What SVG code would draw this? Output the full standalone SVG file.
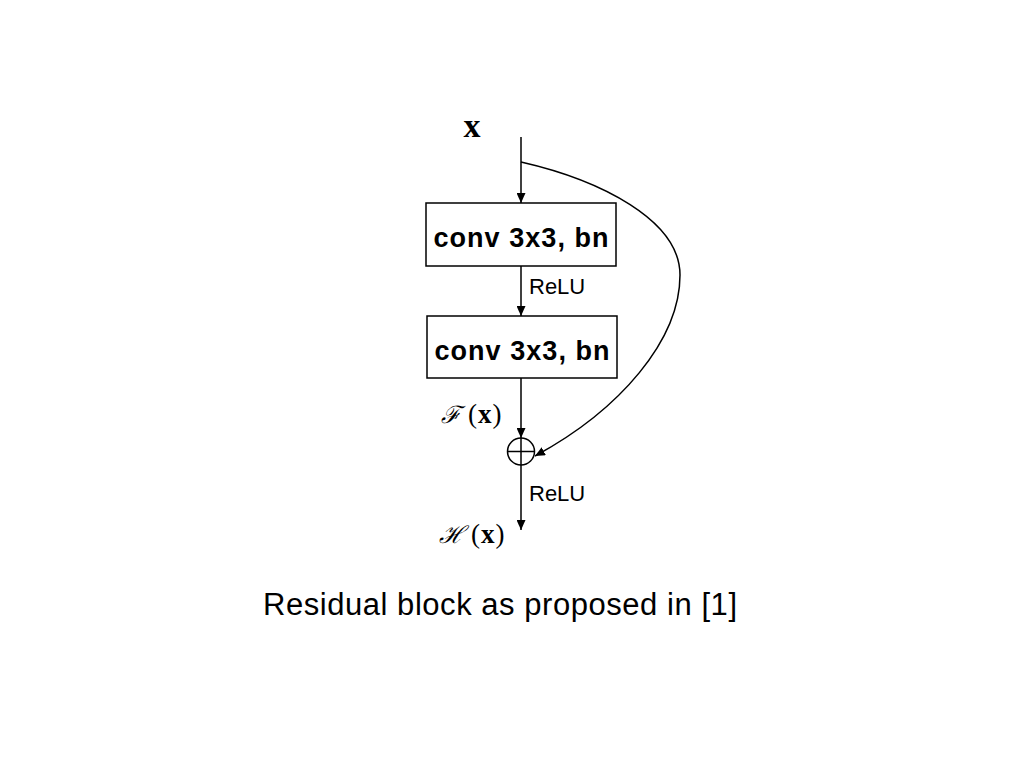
<svg xmlns="http://www.w3.org/2000/svg" width="1024" height="768" viewBox="0 0 1024 768">
<defs>
<marker id="ah" viewBox="0 0 10 10" refX="10" refY="5" markerWidth="10" markerHeight="9" markerUnits="userSpaceOnUse" orient="auto" preserveAspectRatio="none">
<path d="M0,0 L10,5 L0,10 z" fill="#000"/>
</marker>
<style>
.box{fill:#fff;stroke:#000;stroke-width:1.5}
.edge{fill:none;stroke:#000;stroke-width:1.5;marker-end:url(#ah)}
.bt{font-family:"Liberation Sans",Arial,sans-serif;font-weight:bold;font-size:27px;text-anchor:middle}
.lbl{font-family:"Liberation Sans",Arial,sans-serif;font-size:22px}
.math{font-family:"Liberation Serif","DejaVu Serif",serif;font-size:27px}
.scr{font-family:"DejaVu Serif",serif;font-style:italic;font-size:24px}
</style>
</defs>
<rect width="1024" height="768" fill="#fff"/>
<g id="connectors">
<line class="edge" x1="521" y1="137" x2="521" y2="203"/>
<line class="edge" x1="521" y1="266" x2="521" y2="316"/>
<line class="edge" x1="521" y1="378" x2="521" y2="438"/>
<line class="edge" x1="521" y1="438" x2="521" y2="530"/>
<path class="edge" d="M521,162 C600,180 680,220 680,275 C680,340 620,410 535,456"/>
</g>
<g id="input">
<text x="472" y="137" font-family="Liberation Serif,serif" font-weight="bold" font-size="34" text-anchor="middle">x</text>
</g>
<g id="conv1">
<rect class="box" x="426" y="203" width="190" height="63"/>
<text class="bt" x="521" y="247" textLength="175" lengthAdjust="spacing">conv 3x3, bn</text>
</g>
<g id="relu1">
<text class="lbl" x="529" y="294">ReLU</text>
</g>
<g id="conv2">
<rect class="box" x="427" y="316" width="190" height="62"/>
<text class="bt" x="522" y="360" textLength="175" lengthAdjust="spacing">conv 3x3, bn</text>
</g>
<g id="fx">
<text class="math" x="441" y="423"><tspan class="scr">ℱ</tspan><tspan dx="7">(</tspan><tspan font-weight="bold" dx="1">x</tspan><tspan dx="1">)</tspan></text>
</g>
<g id="add">
<circle cx="521" cy="451.5" r="13.5" fill="none" stroke="#000" stroke-width="1.5"/>
<line x1="507.5" y1="451.5" x2="534.5" y2="451.5" stroke="#000" stroke-width="1.5"/>
</g>
<g id="relu2">
<text class="lbl" x="529" y="501">ReLU</text>
</g>
<g id="hx">
<text class="math" x="439" y="543"><tspan class="scr">ℋ</tspan><tspan dx="7">(</tspan><tspan font-weight="bold" dx="1">x</tspan><tspan dx="1">)</tspan></text>
</g>
<g id="caption">
<text x="263" y="615" font-family="Liberation Sans,Arial,sans-serif" font-size="31" textLength="474" lengthAdjust="spacing">Residual block as proposed in [1]</text>
</g>
</svg>
